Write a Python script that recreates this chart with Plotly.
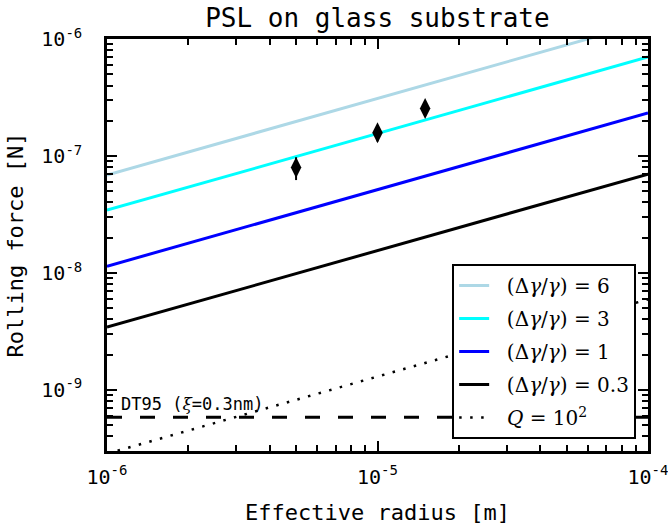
import plotly.graph_objects as go

# ---- data ----
radius_ends = [1e-6, 1e-4]
force_dg6 = [6.87e-8, 1.40e-6]
force_dg3 = [3.44e-8, 7.02e-7]
force_dg1 = [1.14e-8, 2.33e-7]
force_dg03 = [3.44e-9, 7.0e-8]
force_q100 = [2.84e-10, 5.94e-9]
dt95_force = [5.83e-10, 5.83e-10]

meas_radius = [5e-6, 1e-5, 1.5e-5]
meas_force = [7.98e-8, 1.58e-7, 2.54e-7]
meas_err = [1.76e-8, 2.5e-8, 3.5e-8]

x_major = [1e-6, 1e-5, 1e-4]
x_major_text = ["10<sup>-6</sup>", "10<sup>-5</sup>", "10<sup>-4</sup>"]
y_major = [1e-9, 1e-8, 1e-7, 1e-6]
y_major_text = ["10<sup>-9</sup>", "10<sup>-8</sup>", "10<sup>-7</sup>", "10<sup>-6</sup>"]
x_minor = [m * 10.0 ** e for e in (-6, -5) for m in range(2, 10)]
y_minor = [m * 10.0 ** e for e in (-10, -9, -8, -7) for m in range(2, 10)]

x_range = [-6, -3.99999]
y_range = [-9.5229, -5.99999]

MONO = "DejaVu Sans Mono"
SERIF = "DejaVu Serif"
PAD = "&nbsp;&nbsp;"

fig = go.Figure()

lines = [
    (PAD + "(Δ<i>γ</i>/<i>γ</i>) = 6", force_dg6, "#add8e6"),
    (PAD + "(Δ<i>γ</i>/<i>γ</i>) = 3", force_dg3, "#00ffff"),
    (PAD + "(Δ<i>γ</i>/<i>γ</i>) = 1", force_dg1, "#0000ff"),
    (PAD + "(Δ<i>γ</i>/<i>γ</i>) = 0.3", force_dg03, "#000000"),
]
for i, (name, ys, col) in enumerate(lines):
    fig.add_trace(go.Scatter(x=radius_ends, y=ys, mode="lines", name=name,
                             legendgroup=f"g{i}",
                             line=dict(color=col, width=3)))

fig.add_trace(go.Scatter(x=radius_ends, y=dt95_force, mode="lines",
                         showlegend=False,
                         line=dict(color="black", width=3, dash="15px,18px")))

fig.add_trace(go.Scatter(x=radius_ends, y=force_q100, mode="lines",
                         name=PAD + "<i>Q</i> = 10<sup>2</sup>", legendgroup="g5",
                         line=dict(color="black", width=2.5, dash="2.5px,8.5px")))

fig.add_trace(go.Scatter(x=meas_radius, y=meas_force, mode="markers",
                         showlegend=False,
                         marker=dict(symbol="diamond-tall", size=15, color="black"),
                         error_y=dict(type="data", array=meas_err, color="black",
                                      thickness=2, width=0)))

axis_common = dict(
    type="log", showgrid=False, zeroline=False, automargin=False,
    showline=True, linecolor="black", linewidth=2.5, mirror="allticks",
    ticks="inside", ticklen=10, tickwidth=1.5, tickcolor="black",
    ticklabeloverflow="allow",
    tickfont=dict(family=MONO, size=20, color="black"),
)

fig.update_xaxes(**axis_common, range=x_range, tickmode="array",
                 tickvals=x_major, ticktext=x_major_text,
                 minor=dict(tickmode="array", tickvals=x_minor, ticks="inside",
                            ticklen=6, tickwidth=1.5, tickcolor="black", showgrid=False),
                 ticklabelstandoff=6,
                 title=dict(text="Effective radius [m]",
                            font=dict(family=MONO, size=22, color="black"),
                            standoff=17))
fig.update_yaxes(**axis_common, range=y_range, tickmode="array",
                 tickvals=y_major, ticktext=y_major_text,
                 minor=dict(tickmode="array", tickvals=y_minor, ticks="inside",
                            ticklen=6, tickwidth=1.5, tickcolor="black", showgrid=False),
                 ticklabelstandoff=18,
                 title=dict(text="Rolling force [N]",
                            font=dict(family=MONO, size=22, color="black"),
                            standoff=12))

fig.add_annotation(x=-5.956, y=-9.122, xref="x", yref="y",
                   text='DT95 (<span style="font-family:DejaVu Serif"><i>ξ</i></span>=0.3nm)',
                   showarrow=False, xanchor="left", yanchor="middle",
                   font=dict(family=MONO, size=17, color="black"))

fig.update_layout(
    width=668, height=527, autosize=False,
    margin=dict(l=107, r=20, t=39, b=76),
    paper_bgcolor="white", plot_bgcolor="white",
    title=dict(text="PSL on glass substrate", x=0.565, xanchor="center",
               y=1 - 18 / 527, yanchor="middle", yref="container",
               font=dict(family=MONO, size=26, color="black")),
    legend=dict(x=0.638, y=0.029, xanchor="left", yanchor="bottom",
                bgcolor="white", bordercolor="black", borderwidth=2,
                font=dict(family=SERIF, size=20, color="black"),
                tracegroupgap=4, itemwidth=30),
    showlegend=True,
)

fig.write_html("out.html", config={"displayModeBar": False},
               post_script="document.body.style.margin='0';document.body.style.padding='0';")
